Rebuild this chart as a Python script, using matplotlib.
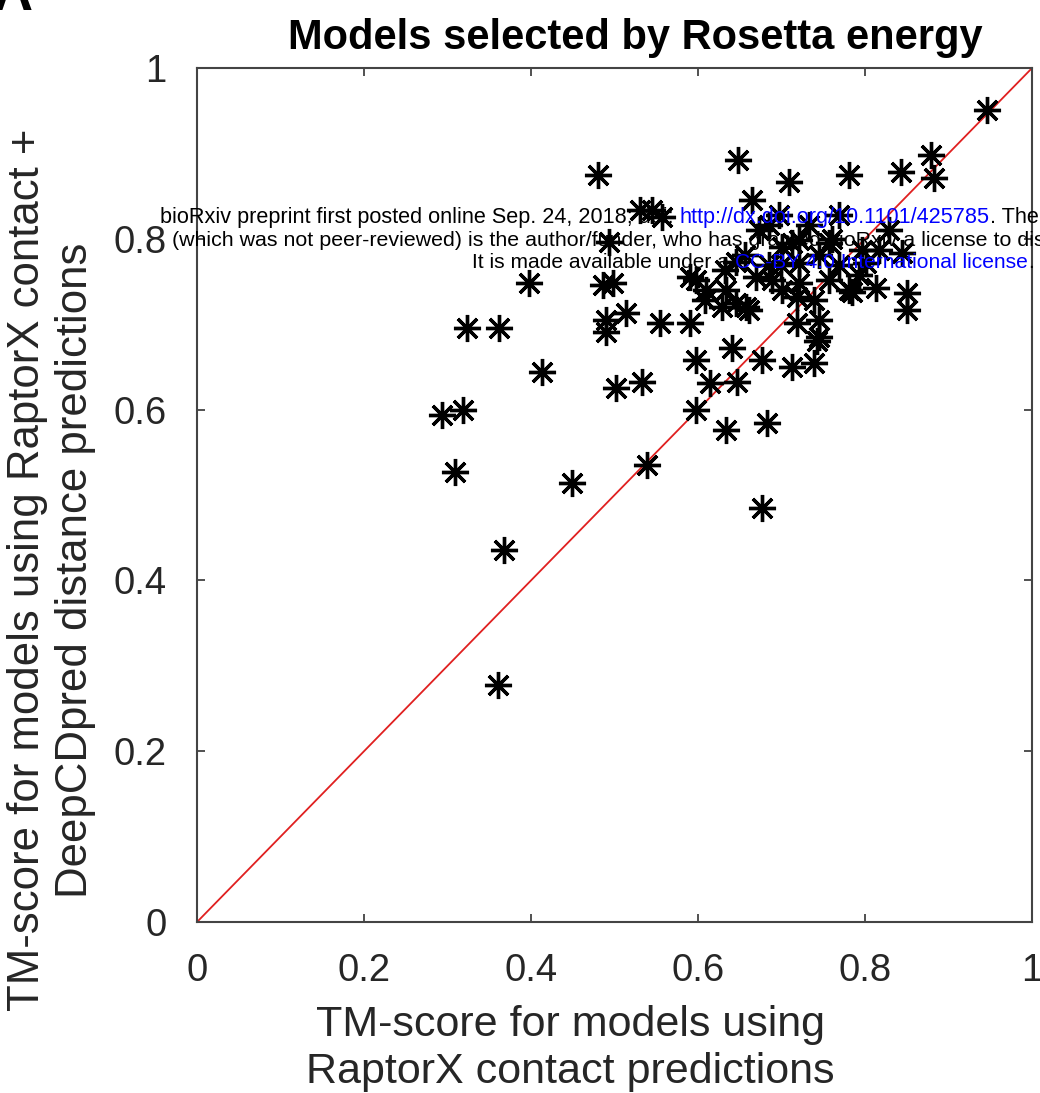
import matplotlib.pyplot as plt
import numpy as np

plt.rcParams['font.family'] = ['Liberation Sans', 'DejaVu Sans']

# TM-scores per target: RaptorX contacts only (x) vs RaptorX + DeepCDpred distances (y)
tm_raptorx = [
    0.946, 0.361, 0.368, 0.449, 0.539, 0.677, 0.309, 0.293, 0.318, 0.413,
    0.323, 0.362, 0.398, 0.486, 0.498, 0.490, 0.490, 0.514, 0.554, 0.502,
    0.533, 0.480, 0.530, 0.557, 0.545, 0.494, 0.648, 0.598, 0.634, 0.683,
    0.614, 0.647, 0.598, 0.677, 0.713, 0.739, 0.641, 0.590, 0.646, 0.661,
    0.745, 0.718, 0.745, 0.598, 0.634, 0.670, 0.701, 0.721, 0.781, 0.813,
    0.850, 0.850, 0.646, 0.701, 0.713, 0.757, 0.797, 0.844, 0.781, 0.843,
    0.879, 0.883, 0.709, 0.665, 0.829, 0.689, 0.721, 0.801, 0.718, 0.658,
    0.629, 0.785, 0.743, 0.610, 0.590, 0.685, 0.733, 0.769, 0.760, 0.700,
    0.673, 0.697, 0.721, 0.745, 0.769, 0.793, 0.817, 0.656, 0.632, 0.685,
    0.757, 0.739, 0.608,
]
tm_combined = [
    0.951, 0.278, 0.436, 0.514, 0.535, 0.485, 0.527, 0.594, 0.600, 0.644,
    0.696, 0.696, 0.748, 0.746, 0.748, 0.705, 0.691, 0.713, 0.701, 0.625,
    0.632, 0.875, 0.834, 0.826, 0.834, 0.796, 0.892, 0.600, 0.576, 0.584,
    0.631, 0.632, 0.658, 0.658, 0.650, 0.655, 0.672, 0.701, 0.725, 0.717,
    0.705, 0.701, 0.685, 0.752, 0.740, 0.755, 0.740, 0.748, 0.740, 0.742,
    0.737, 0.717, 0.773, 0.790, 0.795, 0.795, 0.787, 0.783, 0.875, 0.878,
    0.898, 0.871, 0.867, 0.845, 0.810, 0.752, 0.772, 0.772, 0.732, 0.720,
    0.720, 0.738, 0.681, 0.740, 0.755, 0.816, 0.816, 0.828, 0.800, 0.770,
    0.810, 0.828, 0.799, 0.781, 0.769, 0.758, 0.787, 0.781, 0.763, 0.769,
    0.752, 0.728, 0.728,
]

ticks = [0, 0.2, 0.4, 0.6, 0.8, 1]
tick_labels = ['0', '0.2', '0.4', '0.6', '0.8', '1']

fig = plt.figure(figsize=(10.4, 10.93), dpi=100)
ax = fig.add_axes([0.1894, 0.1564, 0.8029, 0.7813])

# identity line
ax.plot([0, 1], [0, 1], color='#e02020', lw=1.3, zorder=2)
ax.plot(tm_raptorx, tm_combined, linestyle='none', marker=(8, 2, 0),
        markersize=19.5, markeredgewidth=2.4, color='black', zorder=3)

ax.set_xlim(0, 1)
ax.set_ylim(0, 1)
ax.set_xticks(ticks)
ax.set_xticklabels(tick_labels)
ax.set_yticks(ticks)
ax.set_yticklabels(tick_labels)
ax.tick_params(direction='in', length=6, width=1.2, colors='#333333',
               labelcolor='#262626', labelsize=27.5, pad=22,
               top=True, right=True)
for s in ax.spines.values():
    s.set_color('#444444')
    s.set_linewidth(1.5)

ax.set_title('Models selected by Rosetta energy', fontsize=30,
             fontweight='bold', pad=14, x=0.5245)
ax.set_xlabel('TM-score for models using\nRaptorX contact predictions',
              fontsize=31, color='#262626', linespacing=1.22)
ax.xaxis.set_label_coords(0.447, -0.097)
ax.xaxis.label.set_va('top')
ax.set_ylabel('TM-score for models using RaptorX contact +\nDeepCDpred distance predictions',
              fontsize=31.5, color='#262626', linespacing=1.2)
ax.yaxis.set_label_coords(-0.174, 0.412)
ax.yaxis.label.set_va('center')

# panel letter, mostly cut off by the top edge
fig.text(13 / 1040, 1 - 10 / 1093, 'A', fontsize=40, fontweight='bold',
         ha='center', va='baseline')

# preprint banner, one run of text per colour
def banner(pieces, x_px, y_px, fs):
    prev = None
    for txt, col in pieces:
        if prev is None:
            prev = fig.text(x_px / 1040, 1 - y_px / 1093, txt, fontsize=fs,
                            color=col, ha='left', va='center', zorder=10)
        else:
            prev = ax.annotate(txt, xy=(1, 0.5), xycoords=prev, fontsize=fs,
                               color=col, ha='left', va='center', zorder=10,
                               annotation_clip=False)
            prev.set_clip_on(False)

banner([('bioRxiv preprint first posted online Sep. 24, 2018; doi: ', 'black'),
        ('http://dx.doi.org/10.1101/425785', 'blue'),
        ('. The copyright holder for this preprint', 'black')], 160, 218, 15.6)
banner([('(which was not peer-reviewed) is the author/funder, who has granted bioRxiv '
         'a license to display the preprint in perpetuity.', 'black')], 172, 240, 15.4)
banner([('It is made available under a ', 'black'),
        ('CC-BY 4.0 International license', 'blue'),
        ('.', 'black')], 472, 262, 15.1)

fig.savefig('out.png', dpi=100)
